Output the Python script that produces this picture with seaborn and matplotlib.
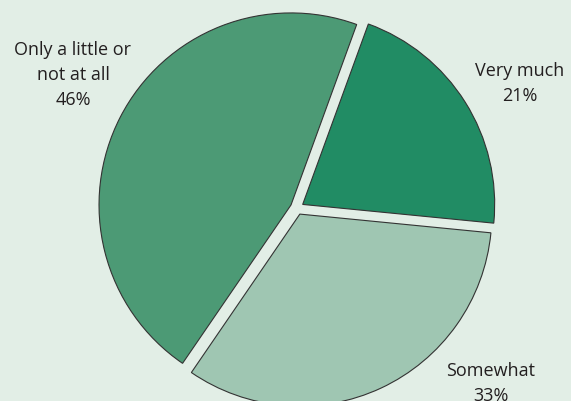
import matplotlib
matplotlib.use("Agg")
import matplotlib.pyplot as plt
import seaborn as sns

# data
categories = ["Very much", "Somewhat", "Only a little or\nnot at all"]
shares = [21, 33, 46]
colors = ["#218c64", "#9fc6b2", "#4c9a75"]

bg = "#e2eee6"
sns.set_theme(style="white")
plt.rcParams["font.family"] = ["Open Sans", "DejaVu Sans"]

fig = plt.figure(figsize=(5.71, 4.02), dpi=100, facecolor=bg)
ax = fig.add_axes([0, 0, 1, 1])
ax.set_facecolor(bg)

ax.pie(shares, colors=colors, startangle=70, counterclock=False,
       explode=[0.035] * 3,
       wedgeprops=dict(edgecolor="#333333", linewidth=0.8))

# radius ~192px, centre ~ (297, 209) px from top-left
r = 192.0
cx, cy = 297, 209
ax.set_aspect("auto")
ax.set_xlim(-cx / r, (571 - cx) / r)
ax.set_ylim(-(402 - cy) / r, cy / r)
ax.axis("off")

# labels
label_pos = [(520, 84), (491, 384), (73, 75)]
for cat, val, (px, py) in zip(categories, shares, label_pos):
    fig.text(px / 571, 1 - py / 402, f"{cat}\n{val}%", ha="center", va="center",
             fontsize=13, color="#231f20", linespacing=1.5)

fig.savefig("out.png", dpi=100, facecolor=bg)
